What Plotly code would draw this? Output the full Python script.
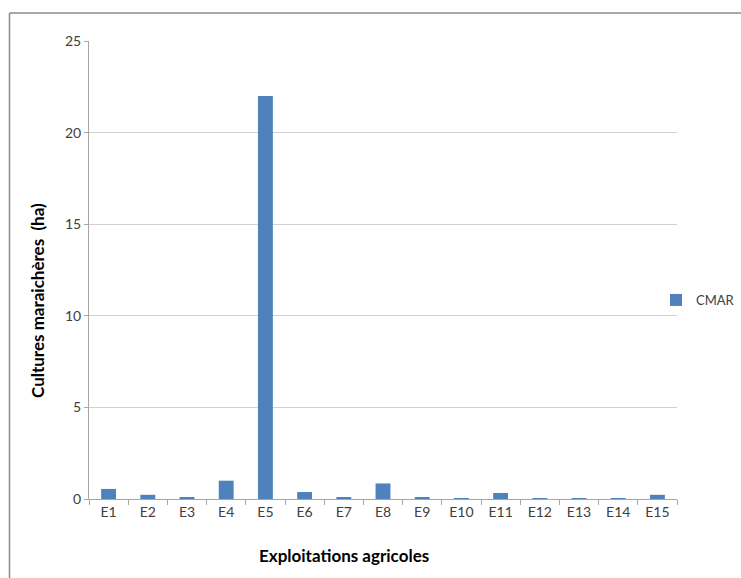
import plotly.graph_objects as go

categories = ["E1", "E2", "E3", "E4", "E5", "E6", "E7", "E8", "E9", "E10", "E11", "E12", "E13", "E14", "E15"]
cmar = [0.55, 0.23, 0.1, 1.0, 22.0, 0.38, 0.1, 0.85, 0.1, 0.05, 0.33, 0.05, 0.05, 0.05, 0.23]
y_ticks = [0, 5, 10, 15, 20, 25]

W, H = 741, 578
L, R, T, B = 89, 64, 41, 79
pw, ph = W - L - R, H - T - B

def px(x):
    return (x - L) / pw

def py(y):
    return (H - B - y) / ph

fig = go.Figure()
fig.add_trace(go.Bar(x=categories, y=cmar, name="CMAR", marker_color="#4F81BD",
                     marker_line_width=0, showlegend=True))

fig.update_layout(
    width=W, height=H,
    margin=dict(l=L, r=R, t=T, b=B, autoexpand=False),
    paper_bgcolor="white", plot_bgcolor="white",
    font=dict(family="Lato", size=14, color="#404040"),
    bargap=0.62,
    showlegend=True,
    legend=dict(x=px(656), y=py(300), xanchor="left", yanchor="middle",
                font=dict(size=13, color="#404040"), bgcolor="rgba(0,0,0,0)",
                itemwidth=30),
    xaxis=dict(
        showline=True, linecolor="#A6A6A6", linewidth=1,
        ticks="outside", tickson="boundaries", ticklen=5, tickcolor="#A6A6A6",
        showgrid=False, tickfont=dict(size=14, color="#404040"),
    ),
    yaxis=dict(
        range=[0, 25], tickvals=y_ticks,
        showline=True, linecolor="#A6A6A6", linewidth=1,
        ticks="outside", ticklen=4, tickcolor="#A6A6A6",
        showgrid=True, gridcolor="#D0D0D0", gridwidth=1,
        zeroline=False, tickfont=dict(size=14, color="#404040"),
    ),
    annotations=[
        dict(text="<b>Exploitations agricoles</b>", xref="paper", yref="paper",
             x=px(344), y=py(555), xanchor="center", yanchor="middle", showarrow=False,
             font=dict(size=17, color="#000000")),
        dict(text="<b>Cultures maraichères\u00a0\u00a0(ha)</b>", xref="paper", yref="paper",
             x=px(37), y=py(301), xanchor="center", yanchor="middle", showarrow=False,
             textangle=-90, font=dict(size=17, color="#000000")),
    ],
    shapes=[
        dict(type="line", xref="paper", yref="paper", x0=px(9.5), x1=px(742), y0=py(13), y1=py(13),
             line=dict(color="#8C8C8C", width=1.5)),
        dict(type="line", xref="paper", yref="paper", x0=px(9.5), x1=px(9.5), y0=py(13), y1=py(600),
             line=dict(color="#8C8C8C", width=1.5)),
    ],
)

fig.write_html("out.html", config={"displayModeBar": False},
               post_script="document.body.style.margin='0';document.body.style.overflow='hidden';")
